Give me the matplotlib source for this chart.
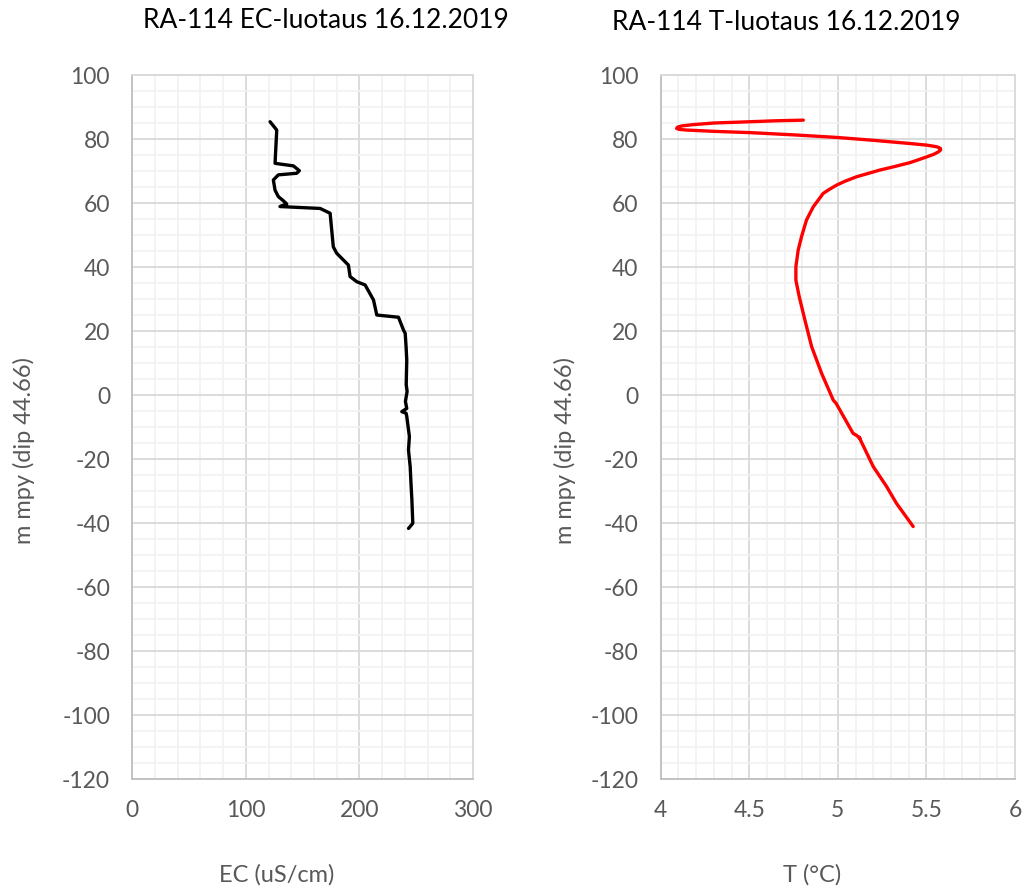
import matplotlib
matplotlib.use("Agg")
import matplotlib.pyplot as plt
from matplotlib.ticker import MultipleLocator

plt.rcParams["font.family"] = ["Lato", "DejaVu Sans"]
plt.rcParams["axes.unicode_minus"] = False

# EC sounding (uS/cm) against depth (m mpy)
ec_values = [121.3, 127.2, 126.6, 125.7, 141.9, 147.1, 144.8, 128.6, 124.2, 125.7,
             128.6, 133.0, 136.0, 130.0, 165.4, 174.2, 177.0, 180.0, 190.3, 191.8,
             197.7, 205.0, 212.4, 215.3, 234.4, 238.8, 240.3, 241.1, 241.7, 241.2,
             242.0, 240.5, 241.7, 237.3, 241.1, 241.7, 244.0, 243.2, 244.7, 245.4,
             246.2, 247.0, 243.2]
ec_depth = [85.4, 82.8, 78.7, 72.4, 71.6, 70.1, 69.3, 68.8, 67.2, 64.0,
            62.0, 60.7, 59.7, 58.9, 58.3, 56.8, 46.3, 44.3, 40.6, 37.0,
            35.4, 34.4, 29.7, 25.0, 24.3, 20.3, 19.3, 15.0, 10.9, 3.3,
            1.1, -2.0, -4.2, -5.2, -5.7, -6.7, -13.0, -17.2, -22.4, -27.6,
            -32.8, -40.1, -41.7]

# Temperature sounding (°C) against depth (m mpy)
t_values = [4.805, 4.650, 4.504, 4.300, 4.184, 4.120, 4.095, 4.090, 4.105, 4.147,
            4.300, 4.504, 4.750, 4.993, 5.200, 5.406, 5.500, 5.557, 5.578, 5.580,
            5.568, 5.540, 5.480, 5.406, 5.320, 5.237, 5.105, 5.040, 4.993, 4.950,
            4.917, 4.861, 4.823, 4.795, 4.776, 4.763, 4.763, 4.782, 4.814, 4.852,
            4.908, 4.974, 4.990, 5.086, 5.105, 5.124, 5.120, 5.200, 5.275, 5.330,
            5.425]
t_depth = [85.9, 85.7, 85.4, 85.0, 84.5, 84.1, 83.7, 83.3, 83.0, 82.8,
           82.4, 82.0, 81.3, 80.5, 79.6, 78.6, 78.1, 77.6, 77.1, 76.6,
           76.0, 75.2, 74.0, 72.6, 71.4, 70.3, 68.2, 66.8, 65.6, 64.2,
           63.0, 58.8, 54.7, 49.5, 45.3, 40.1, 35.9, 30.7, 23.4, 15.1,
           6.8, -1.6, -2.6, -12.0, -12.6, -13.5, -13.2, -22.4, -28.6, -33.8,
           -41.1]

titles = ["RA-114 EC-luotaus 16.12.2019", "RA-114 T-luotaus 16.12.2019"]
xlabels = ["EC (uS/cm)", "T (\u00b0C)"]
ylabel = "m mpy (dip 44.66)"

TEXT_GRAY = "#595959"
MAJOR = "#d9d9d9"
MINOR = "#f2f2f2"

W, H = 1028, 891
fig = plt.figure(figsize=(W / 100, H / 100), dpi=100)
ax1 = fig.add_axes([0.1287, 0.1257, 0.3314, 0.7901])
ax2 = fig.add_axes([0.6427, 0.1257, 0.3447, 0.7901])


def style(ax, xlim, xmajor, xminor):
    ax.set_xlim(*xlim)
    ax.set_ylim(-120, 100)
    ax.xaxis.set_major_locator(MultipleLocator(xmajor))
    ax.xaxis.set_minor_locator(MultipleLocator(xminor))
    ax.yaxis.set_major_locator(MultipleLocator(20))
    ax.yaxis.set_minor_locator(MultipleLocator(5))
    ax.grid(which="minor", color=MINOR, lw=1.3, zorder=0)
    ax.grid(which="major", color=MAJOR, lw=1.3, zorder=0)
    ax.set_axisbelow(True)
    for s in ax.spines.values():
        s.set_color(MAJOR)
        s.set_linewidth(1.3)
    ax.spines["left"].set_color("#bfbfbf")
    ax.spines["bottom"].set_color("#bfbfbf")
    ax.tick_params(which="both", length=0, labelsize=16.5, colors=TEXT_GRAY)
    ax.tick_params(axis="x", pad=15)
    ax.tick_params(axis="y", pad=16)


style(ax1, (0, 300), 100, 20)
ax1.plot(ec_values, ec_depth, color="black", lw=2.4, zorder=3,
         solid_joinstyle="round", solid_capstyle="round")
ax1.set_xticks([0, 100, 200, 300])

style(ax2, (4, 6), 0.5, 0.1)
ax2.plot(t_values, t_depth, color="#ff0000", lw=2.4, zorder=3,
         solid_joinstyle="round", solid_capstyle="round")
ax2.set_xticks([4, 4.5, 5, 5.5, 6])
ax2.set_xticklabels(["4", "4.5", "5", "5.5", "6"])

# Chart titles and axis titles
fig.text(326 / W, 1 - 20 / H, titles[0], fontsize=19, color="#000000",
         ha="center", va="center")
fig.text(786 / W, 1 - 22 / H, titles[1], fontsize=19, color="#000000",
         ha="center", va="center")
fig.text(277 / W, 1 - 875 / H, xlabels[0], fontsize=17, color=TEXT_GRAY,
         ha="center", va="center")
fig.text(812 / W, 1 - 875 / H, xlabels[1], fontsize=17, color=TEXT_GRAY,
         ha="center", va="center")
fig.text(24 / W, 1 - 450 / H, ylabel, fontsize=17, color=TEXT_GRAY,
         ha="center", va="center", rotation=90)
fig.text(565 / W, 1 - 450 / H, ylabel, fontsize=17, color=TEXT_GRAY,
         ha="center", va="center", rotation=90)

fig.savefig("out.png", dpi=100, facecolor="white")
